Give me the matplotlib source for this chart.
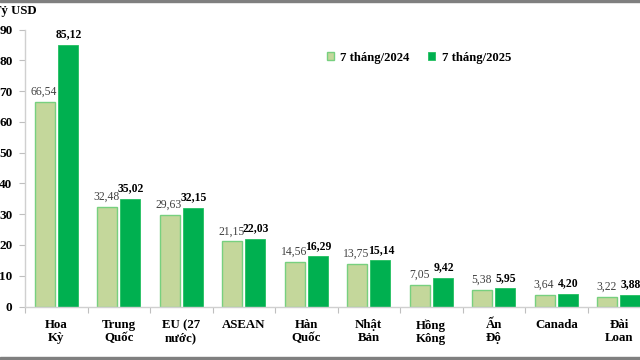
import matplotlib
matplotlib.use("Agg")
import matplotlib.pyplot as plt
from matplotlib.patches import Rectangle
import numpy as np

categories = ["Hoa\nKỳ", "Trung\nQuốc", "EU (27\nnước)", "ASEAN", "Hàn\nQuốc",
              "Nhật\nBản", "Hồng\nKông", "Ấn\nĐộ", "Canada", "Đài\nLoan"]
v2024 = [66.54, 32.48, 29.63, 21.15, 14.56, 13.75, 7.05, 5.38, 3.64, 3.22]
v2025 = [85.12, 35.02, 32.15, 22.03, 16.29, 15.14, 9.42, 5.95, 4.20, 3.88]
yticks = [0, 10, 20, 30, 40, 50, 60, 70, 80, 90]
series_names = ["7 tháng/2024", "7 tháng/2025"]

plt.rcParams['font.family'] = ['Liberation Serif', 'DejaVu Serif']

fig = plt.figure(figsize=(6.4, 3.6), dpi=100)
W, H = 640, 360
ax_left, ax_right = 25, 650
ax_top, ax_bot = 29.7, 306.5
ax = fig.add_axes([ax_left / W, 1 - ax_bot / H, (ax_right - ax_left) / W, (ax_bot - ax_top) / H])

x = np.arange(len(categories))
bw = 0.32
off = 0.184
c_light = "#c4d79b"
c_light_edge = "#77d07f"
c_dark = "#00b050"
ax.bar(x - off, v2024, bw, color=c_light, edgecolor=c_light_edge, linewidth=1.0, label=series_names[0])
ax.bar(x + off, v2025, bw, color=c_dark, edgecolor="#22c060", linewidth=0.6, label=series_names[1])

def fmt(v):
    return f"{v:.2f}".replace(".", ",")

for xi, v in zip(x, v2024):
    ax.annotate(fmt(v), (xi - off, v), xytext=(-0.5, 3), textcoords="offset points",
                ha="center", va="bottom", fontsize=8.4, color="#404040")
for xi, v in zip(x, v2025):
    ax.annotate(fmt(v), (xi + off, v), xytext=(0.5, 3), textcoords="offset points",
                ha="center", va="bottom", fontsize=8.4, color="black", fontweight="bold")

ax.set_xlim(-0.5, len(categories) - 0.5)
ax.set_ylim(0, 90)
ax.set_yticks(yticks)
ax.set_yticklabels([str(t) for t in yticks], fontweight="bold", fontsize=9.5)
ax.set_xticks(x)
ax.set_xticklabels(categories, fontweight="bold", fontsize=9.3, linespacing=1.15)
ax.set_xticks(np.arange(len(categories) + 1) - 0.5, minor=True)
ax.tick_params(axis="x", which="major", length=0, pad=9)
ax.tick_params(axis="x", which="minor", length=4, color="#bfbfbf", width=0.8)
ax.tick_params(axis="y", length=4, color="#bfbfbf", width=0.8, pad=5)
for s in ["top", "right"]:
    ax.spines[s].set_visible(False)
for s in ["left", "bottom"]:
    ax.spines[s].set_color("#d0d0d0")
    ax.spines[s].set_linewidth(1.0)

ax.legend(loc="upper left", bbox_to_anchor=((315 - ax_left) / (ax_right - ax_left), (306.5 - 40) / (ax_bot - ax_top)),
          ncol=2, frameon=False, prop={"weight": "bold", "size": 9.2},
          handlelength=0.55, handleheight=0.55, handletextpad=0.5, columnspacing=1.5)

fig.text(37 / W, 1 - 11 / H, "Tỷ USD", ha="right", va="center", fontsize=9.2, fontweight="bold")

fig.add_artist(Rectangle((0, 1 - 2 / H), 1, 2 / H, transform=fig.transFigure, color="#7f7f7f", zorder=10))
fig.add_artist(Rectangle((0, 0), 1, 3 / H, transform=fig.transFigure, color="#7f7f7f", zorder=10))

fig.savefig("out.png", dpi=100)
